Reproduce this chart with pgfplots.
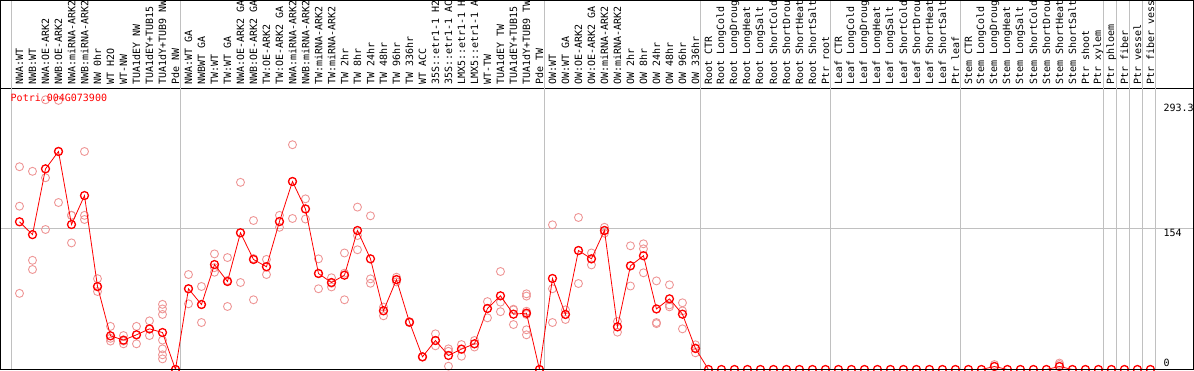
\documentclass[border=0pt]{standalone}
\usepackage{pgfplots}
\pgfplotsset{compat=1.18}
\usepackage{fontspec}
\newfontfamily\pxfont{DejaVu Sans Mono}
\definecolor{gridc}{RGB}{192,192,192}
\definecolor{repc}{RGB}{238,150,150}
\begin{document}
\begin{tikzpicture}
\begin{axis}[
  at={(0.5pt,0.5pt)}, anchor=south west,
  scale only axis, width=1193pt, height=281pt,
  xmin=-1.4615, xmax=90.3077, ymin=0, ymax=306.27,
  clip mode=individual,
  axis line style={black, line width=1pt},
  xtick={0,...,87},
  major tick length=0pt,
  xticklabel pos=upper,
  xticklabels={NWA:WT,NWB:WT,NWA:OE-ARK2,NWB:OE-ARK2,NWA:miRNA-ARK2,NWB:miRNA-ARK2,NW 0hr,WT H2O,WT-NW,TUA1dEY NW,TUA1dEY+TUB15,TUA1dY+TUB9 NW,Pde NW,
    NWA:WT GA,NWBWT GA,TW:WT,TW:WT GA,NWA:OE-ARK2 GA,NWB:OE-ARK2 GA,TW:OE-ARK2,TW:OE-ARK2 GA,NWA:miRNA-ARK2,NWB:miRNA-ARK2,TW:miRNA-ARK2,TW:miRNA-ARK2,TW 2hr,TW 8hr,TW 24hr,TW 48hr,TW 96hr,TW 336hr,WT ACC,35S::etr1-1 H2,35S::etr1-1 AC,LMX5::etr1-1 H,LMX5::etr1-1 A,WT-TW,TUA1dEY TW,TUA1dEY+TUB15,TUA1dY+TUB9 TW,Pde TW,
    OW:WT,OW:WT GA,OW:OE-ARK2,OW:OE-ARK2 GA,OW:miRNA-ARK2,OW:miRNA-ARK2,OW 2hr,OW 8hr,OW 24hr,OW 48hr,OW 96hr,OW 336hr,
    Root CTR,Root LongCold,Root LongDroug,Root LongHeat,Root LongSalt,Root ShortCold,Root ShortDrou,Root ShortHeat,Root ShortSalt,Ptr root,
    Leaf CTR,Leaf LongCold,Leaf LongDroug,Leaf LongHeat,Leaf LongSalt,Leaf ShortCold,Leaf ShortDrou,Leaf ShortHeat,Leaf ShortSalt,Ptr leaf,
    Stem CTR,Stem LongCold,Stem LongDroug,Stem LongHeat,Stem LongSalt,Stem ShortCold,Stem ShortDrou,Stem ShortHeat,Stem ShortSalt,Ptr shoot,Ptr xylem,
    Ptr phloem,Ptr fiber,Ptr vessel,Ptr fiber vess},
  xticklabel style={rotate=90, anchor=west, font=\pxfont\fontsize{10}{10}\selectfont},
  ytick=\empty,
]
% group separators and grid
\foreach \g in {-0.65,12.35,40.35,52.35,62.35,72.35,83.35,84.35,85.35,86.35,87.35}{
  \edef\tmp{\noexpand\draw[gridc, line width=0.8pt] (axis cs:\g,0) -- (axis cs:\g,402.7);}\tmp
}
\draw[gridc, line width=0.8pt] (axis cs:-1.4615,154) -- (axis cs:90.3077,154);
% replicates
\addplot[only marks, mark=o, mark size=4pt, repc, mark options={line width=0.9pt}] table[row sep=\\] {
x y\\
0 221\\ 0 178\\ 0 83\\
1 216\\ 1 119\\ 1 109\\
2 209\\ 2 152.6\\ 2 294\\
3 293.3\\ 3 182\\ 3 238\\
4 168\\ 4 138\\ 4 168\\
5 237.6\\ 5 168\\ 5 163.5\\
6 99\\ 6 90\\ 6 85\\
7 47\\ 7 31\\ 7 34\\
8 37\\ 8 31\\ 8 28\\
9 47\\ 9 38\\ 9 28\\
10 53\\ 10 44\\ 10 37\\
11 71\\ 11 66\\ 11 60\\ 11 32\\ 11 22.5\\ 11 16\\ 11 11.6\\
12 0\\
13 103.5\\ 13 88\\ 13 71.6\\
14 90.5\\ 14 71\\ 14 51.2\\
15 126\\ 15 106\\ 15 111\\
16 122\\ 16 97\\ 16 68.7\\
17 204\\ 17 149\\ 17 94.8\\
18 162.4\\ 18 121\\ 18 76\\
19 120\\ 19 112\\ 19 103.5\\
20 168\\ 20 161\\ 20 155\\
21 245\\ 21 205\\ 21 164.6\\
22 186\\ 22 175\\ 22 164\\
23 120.6\\ 23 105\\ 23 88\\
24 100\\ 24 94\\ 24 90\\
25 127\\ 25 105\\ 25 76\\
26 177\\ 26 146\\ 26 130.5\\
27 167.5\\ 27 98.8\\ 27 94\\
28 68\\ 28 64\\ 28 58.5\\
29 100.6\\ 29 98\\ 29 95.5\\
30 52\\ 30 51.6\\ 30 51\\
31 14\\ 31 13.8\\ 31 13.6\\
32 38.9\\ 32 31.6\\ 32 25.8\\
33 22.5\\ 33 19.8\\ 33 3.6\\
34 27.2\\ 34 22.2\\ 34 14.5\\
35 31.6\\ 35 28\\ 35 24.5\\
36 74\\ 36 66.5\\ 36 56.3\\
37 106.8\\ 37 73.4\\ 37 63\\
38 65.7\\ 38 65\\ 38 49\\
39 82.5\\ 39 80\\ 39 63.5\\ 39 60\\ 39 43.3\\ 39 37.8\\
40 0\\
41 157.7\\ 41 88\\ 41 51.2\\
42 65\\ 42 60\\ 42 54.5\\
43 165.7\\ 43 129.7\\ 43 93.7\\
44 127\\ 44 120.6\\ 44 114\\
45 155\\ 45 151.5\\ 45 148.6\\
46 52.3\\ 46 46.5\\ 46 40.7\\
47 134.8\\ 47 113\\ 47 91\\
48 137\\ 48 131.5\\ 48 105.4\\
49 96.6\\ 49 51.2\\ 49 50\\
50 92.3\\ 50 70.4\\ 50 68.3\\
51 72.7\\ 51 63.9\\ 51 44.3\\
52 26.9\\ 52 23.6\\ 52 18.2\\
75 5.4\\ 80 5.4\\ 80 7\\
};
% means
\addplot[red, line width=0.8pt, mark=o, mark size=4pt, mark options={line width=1.3pt}] coordinates {
(0,161) (1,147) (2,218.7) (3,237.6) (4,158) (5,189.6) (6,90.5) (7,36.7) (8,32) (9,37.8) (10,44.3) (11,40.3) (12,0)
(13,88) (14,70.8) (15,114.4) (16,95.9) (17,149) (18,119.9) (19,112) (20,161.3) (21,204.9)
(22,175) (23,104.6) (24,94.8) (25,102.8) (26,151.5) (27,120.6) (28,64) (29,98) (30,51.6) (31,13.8) (32,31.6) (33,15.3) (34,22.2) (35,28) (36,66.5) (37,80.3) (38,60.3) (39,61.4) (40,0)
(41,99.2) (42,60) (43,129.7) (44,120.6) (45,151.5) (46,46.5) (47,113) (48,124) (49,66) (50,77) (51,60.3) (52,22.9)
(53,0) (54,0) (55,0) (56,0) (57,0) (58,0) (59,0) (60,0) (61,0) (62,0)
(63,0) (64,0) (65,0) (66,0) (67,0) (68,0) (69,0) (70,0) (71,0) (72,0)
(73,0) (74,0) (75,3.3) (76,0) (77,0) (78,0) (79,0) (80,3.3) (81,0) (82,0) (83,0)
(84,0) (85,0) (86,0) (87,0)
};
\node[red, anchor=west, inner sep=0pt, font=\pxfont\fontsize{10}{10}\selectfont] at (axis cs:-0.69,296.5) {Potri.004G073900};
\node[anchor=west, inner sep=0pt, font=\pxfont\fontsize{10}{10}\selectfont] at (axis cs:88.0,285.7) {293.3};
\node[anchor=west, inner sep=0pt, font=\pxfont\fontsize{10}{10}\selectfont] at (axis cs:88.0,148.8) {154};
\node[anchor=west, inner sep=0pt, font=\pxfont\fontsize{10}{10}\selectfont] at (axis cs:88.0,7.6) {0};
\end{axis}
\draw[black, line width=1pt] (0.5pt,0.5pt) rectangle (1193.5pt,369.5pt);
\pgfresetboundingbox
\useasboundingbox (0,0) rectangle (1194pt,370pt);
\end{tikzpicture}
\end{document}
